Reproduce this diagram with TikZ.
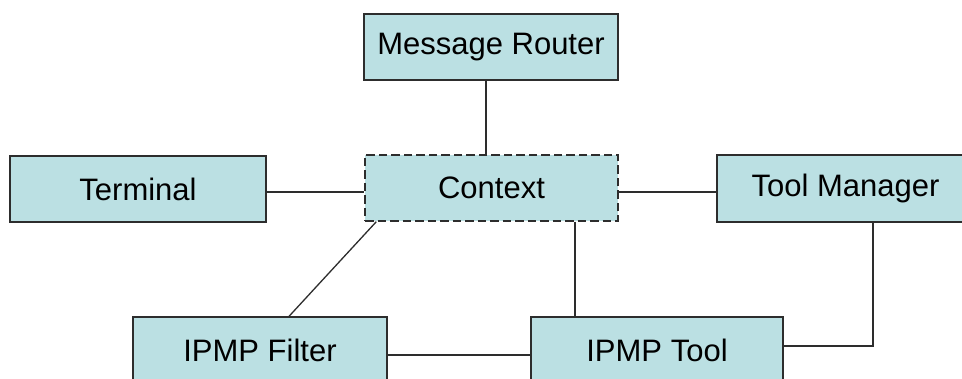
\documentclass[tikz,border=0pt]{standalone}
\usepackage{fontspec}
\setmainfont{Liberation Sans}
\definecolor{boxfill}{RGB}{187,224,227}
\definecolor{edge}{RGB}{45,45,45}
\begin{document}
\begin{tikzpicture}[x=1pt,y=-1pt,
  block/.style={draw=edge, fill=boxfill, line width=1.3pt, inner sep=0pt,
    minimum width=254pt, minimum height=66pt,
    font=\fontsize{31}{37}\selectfont},
  dashedblock/.style={block, dash pattern=on 8.5pt off 4pt},
  link/.style={draw=edge, line width=1.3pt}]
\useasboundingbox (0,0) rectangle (962,379);
\clip (0,0) rectangle (962,379);

\node[block]        (router)   at (491,47)    {Message Router};
\node[block, minimum width=256pt] (terminal) at (138,189) {Terminal};
\node[dashedblock, minimum width=253pt] (context) at (491.5,188) {Context};
\node[block, minimum width=257pt, minimum height=67pt] (manager) at (845.5,188.5) {Tool Manager};
\node[block]        (filter)   at (260,350)   {IPMP Filter};
\node[block, minimum width=252pt] (tool) at (657,350) {IPMP Tool};

\coordinate (ctxlow) at ([xshift=12pt]context.south west);
\coordinate (filtop) at ([xshift=29pt]filter.north);
\coordinate (mgrdrop) at (873,0);

\draw[link] ([xshift=-5pt]router.south) -- ([xshift=-5pt]router.south |- context.north);
\draw[link] (terminal.east |- 0,192) -- (context.west |- 0,192);
\draw[link] (context.east |- 0,192) -- (manager.west |- 0,192);
\draw[link] (ctxlow) -- (filtop);
\draw[link] (575,0 |- context.south) -- (575,0 |- tool.north);
\draw[link] (mgrdrop |- manager.south) |- (tool.east |- 0,346);
\draw[link] (filter.east |- 0,355) -- (tool.west |- 0,355);
\end{tikzpicture}
\end{document}
